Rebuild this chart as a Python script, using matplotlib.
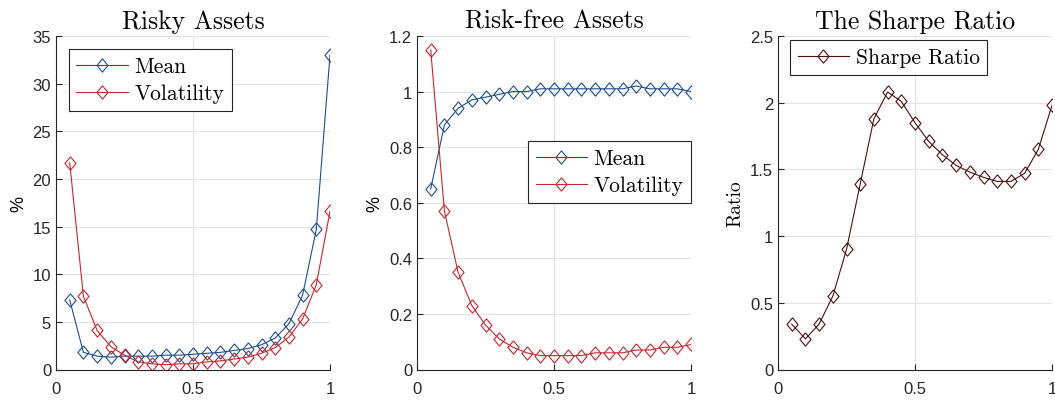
import matplotlib
matplotlib.use("Agg")
import matplotlib.pyplot as plt
import numpy as np

x = [0.05, 0.10, 0.15, 0.20, 0.25, 0.30, 0.35, 0.40, 0.45, 0.50,
     0.55, 0.60, 0.65, 0.70, 0.75, 0.80, 0.85, 0.90, 0.95, 1.00]

risky_mean = [7.3, 1.8, 1.4, 1.3, 1.4, 1.4, 1.4, 1.5, 1.5, 1.6,
              1.7, 1.8, 2.0, 2.2, 2.6, 3.3, 4.8, 7.8, 14.7, 33.0]
risky_vol = [21.7, 7.7, 4.1, 2.4, 1.5, 0.8, 0.6, 0.5, 0.6, 0.6,
             0.8, 0.9, 1.1, 1.3, 1.7, 2.3, 3.4, 5.3, 8.9, 16.6]

rf_mean = [0.65, 0.88, 0.94, 0.97, 0.98, 0.99, 1.00, 1.00, 1.01, 1.01,
           1.01, 1.01, 1.01, 1.01, 1.01, 1.02, 1.01, 1.01, 1.01, 1.00]
rf_vol = [1.15, 0.57, 0.35, 0.23, 0.16, 0.11, 0.08, 0.06, 0.05, 0.05,
          0.05, 0.05, 0.06, 0.06, 0.06, 0.07, 0.07, 0.08, 0.08, 0.09]

sharpe = [0.34, 0.23, 0.34, 0.55, 0.90, 1.39, 1.88, 2.08, 2.01, 1.85,
          1.71, 1.61, 1.53, 1.48, 1.44, 1.41, 1.41, 1.47, 1.65, 1.98]

titles = ["Risky Assets", "Risk-free Assets", "The Sharpe Ratio"]
blue = "#1F4E8C"
red = "#C4282E"
brown = "#4A1010"

serif = ["cmr10", "DejaVu Serif"]
plt.rcParams['font.family'] = ['Liberation Sans', 'DejaVu Sans']
plt.rcParams['axes.formatter.use_mathtext'] = False

fig = plt.figure(figsize=(10.55, 4.02), dpi=100)
lefts = [56/1055, 417/1055, 778/1055]
w = 274/1055
b = 31.5/402
h = 333.5/402
axes = [fig.add_axes([l, b, w, h]) for l in lefts]

diamond = [(0, 1), (0.83, 0), (0, -1), (-0.83, 0), (0, 1)]
mk = dict(marker=diamond, markersize=9.6, markerfacecolor='none', linewidth=0.8, markeredgewidth=0.8)
legkw = dict(prop={'family': serif, 'size': 15.5}, borderaxespad=0, handlelength=2.4,
             borderpad=0.35, labelspacing=0.35, handletextpad=0.3, fancybox=False)

ax = axes[0]
ax.plot(x, risky_mean, color=blue, label="Mean", **mk)
ax.plot(x, risky_vol, color=red, label="Volatility", **mk)
ax.set_ylim(0, 35)
ax.set_yticks([0, 5, 10, 15, 20, 25, 30, 35])
ax.set_ylabel("%", fontsize=13)
leg0 = ax.legend(loc='upper left', bbox_to_anchor=(0.047, 0.961), **legkw)

ax = axes[1]
ax.plot(x, rf_mean, color=blue, label="Mean", **mk)
ax.plot(x, rf_vol, color=red, label="Volatility", **mk)
ax.set_ylim(0, 1.2)
ax.set_yticks([0, 0.2, 0.4, 0.6, 0.8, 1.0, 1.2])
ax.set_yticklabels(["0", "0.2", "0.4", "0.6", "0.8", "1", "1.2"])
ax.set_ylabel("%", fontsize=13)
leg1 = ax.legend(loc='upper left', bbox_to_anchor=(0.405, 0.685), **legkw)

ax = axes[2]
ax.plot(x, sharpe, color=brown, label="Sharpe Ratio", **mk)
ax.set_ylim(0, 2.5)
ax.set_yticks([0, 0.5, 1.0, 1.5, 2.0, 2.5])
ax.set_yticklabels(["0", "0.5", "1", "1.5", "2", "2.5"])
ax.set_ylabel("Ratio", fontsize=14, family=serif)
leg2 = ax.legend(loc='upper left', bbox_to_anchor=(0.044, 0.988), **legkw)

for ax, t, leg in zip(axes, titles, [leg0, leg1, leg2]):
    ax.set_xlim(0, 1)
    ax.set_xticks([0, 0.5, 1])
    ax.set_xticklabels(["0", "0.5", "1"])
    ax.set_title(t, family=serif, fontsize=18.5, pad=6)
    ax.grid(True, color='#E3E3E3', linewidth=0.8)
    ax.set_axisbelow(True)
    for s in ['top', 'right']:
        ax.spines[s].set_visible(False)
    for s in ['left', 'bottom']:
        ax.spines[s].set_color('#262626')
        ax.spines[s].set_linewidth(0.8)
    ax.tick_params(direction='in', length=4, width=0.8, colors='#262626', labelsize=12, labelcolor='#262626')
    ax.tick_params(axis='x', pad=8)
    fr = leg.get_frame()
    fr.set_edgecolor('#262626')
    fr.set_linewidth(0.8)
    fr.set_alpha(1)

fig.savefig("out.png", dpi=100)
